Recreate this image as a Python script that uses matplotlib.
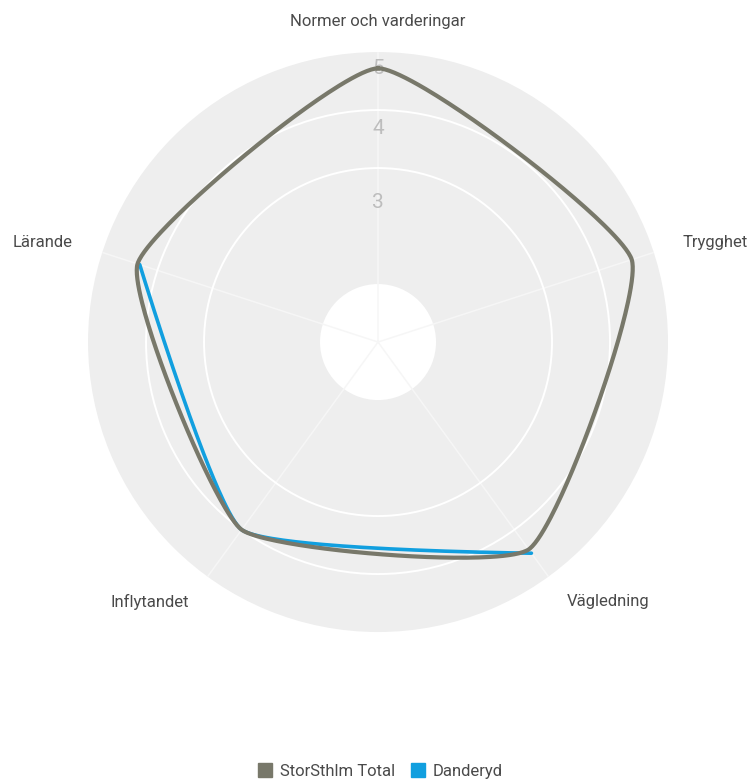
import numpy as np
import matplotlib
matplotlib.use("Agg")
import matplotlib.pyplot as plt
from matplotlib.lines import Line2D

plt.rcParams['font.family'] = ['Roboto', 'DejaVu Sans']

categories = ["Normer och varderingar", "Trygghet", "Vägledning", "Inflytandet", "Lärande"]
storsthlm = [4.72, 4.60, 4.42, 4.00, 4.36]
danderyd = [None, None, 4.50, 4.00, 4.32]
rticks = [3, 4, 5]

grey = '#78786a'
blue = '#119fdf'


def spline(xs, ys, closed, k=0.12):
    # rounded-corner spline, control points at k of the way to neighbours
    n = len(xs)
    lc, rc = [], []
    for i in range(n):
        if closed:
            px, py = xs[i - 1], ys[i - 1]
            nx, ny = xs[(i + 1) % n], ys[(i + 1) % n]
        elif 0 < i < n - 1:
            px, py = xs[i - 1], ys[i - 1]
            nx, ny = xs[i + 1], ys[i + 1]
        else:
            lc.append((xs[i], ys[i]))
            rc.append((xs[i], ys[i]))
            continue
        x, y = xs[i], ys[i]
        dl = k * np.hypot(px - x, py - y)
        dr = k * np.hypot(nx - x, ny - y)
        tx, ty = nx - px, ny - py
        tn = np.hypot(tx, ty)
        tx, ty = tx / tn, ty / tn
        lc.append((x - tx * dl, y - ty * dl))
        rc.append((x + tx * dr, y + ty * dr))
    segs = n if closed else n - 1
    t = np.linspace(0, 1, 80)[:, None]
    out = []
    for i in range(segs):
        j = (i + 1) % n
        p0 = np.array([xs[i], ys[i]])
        p1 = np.array(rc[i])
        p2 = np.array(lc[j])
        p3 = np.array([xs[j], ys[j]])
        b = (1 - t) ** 3 * p0 + 3 * (1 - t) ** 2 * t * p1 + 3 * (1 - t) * t ** 2 * p2 + t ** 3 * p3
        out.append(b)
    pts = np.vstack(out)
    return np.arctan2(pts[:, 0], pts[:, 1]), np.hypot(pts[:, 0], pts[:, 1])


def main():
    n = len(categories)
    angles = np.arange(n) * 2 * np.pi / n

    fig = plt.figure(figsize=(7.51, 7.83), dpi=100)
    ax = fig.add_axes([0.1172, 0.1928, 0.7723, 0.7407], projection='polar')
    ax.set_theta_offset(np.pi / 2)
    ax.set_theta_direction(-1)
    ax.set_ylim(0, 5)
    ax.set_facecolor('#eeeeee')
    ax.spines['polar'].set_visible(False)
    ax.set_axisbelow(True)

    # white hole in the middle
    ax.bar(0, 1, width=2 * np.pi, bottom=0, color='white', zorder=0.1, linewidth=0)

    ax.set_xticks(angles)
    ax.set_xticklabels([])
    ax.set_yticks([3, 4])
    ax.set_yticklabels([])
    ax.xaxis.grid(True, color='#f6f6f6', linewidth=1.1)
    ax.yaxis.grid(True, color='white', linewidth=1.4)
    ax.tick_params(length=0)

    # radial labels
    for v, rpos in zip(rticks, [2.41, 3.69, 4.72]):
        ax.text(0, rpos, str(v), ha='center', va='center', fontsize=15,
                color='#bdbdbd', zorder=1.5)

    # category labels
    aligns = ['center', 'left', 'left', 'right', 'right']
    for a, lab, ha in zip(angles, categories, aligns):
        ax.text(a, 5.53, lab, ha=ha, va='center', fontsize=12, color='#4a4a4a',
                clip_on=False)

    # Danderyd (only partial data)
    dv = [(a, v) for a, v in zip(angles, danderyd) if v is not None]
    da = np.array([p[0] for p in dv])
    dr = np.array([p[1] for p in dv])
    th, rr = spline(dr * np.sin(da), dr * np.cos(da), closed=False)
    ax.plot(th, rr, color=blue, lw=2.6, solid_capstyle='round', zorder=3)

    sv = np.array(storsthlm)
    th, rr = spline(sv * np.sin(angles), sv * np.cos(angles), closed=True)
    ax.plot(th, rr, color=grey, lw=3, solid_joinstyle='round', zorder=4)

    handles = [Line2D([], [], marker='s', markersize=10.5, linestyle='none', color=grey),
               Line2D([], [], marker='s', markersize=10.5, linestyle='none', color=blue)]
    fig.legend(handles, ["StorSthlm Total", "Danderyd"], loc='center',
               bbox_to_anchor=(0.5, 0.015), ncol=2, frameon=False, fontsize=12,
               handletextpad=-0.1, columnspacing=0.4, labelcolor='#4a4a4a')

    fig.savefig("out.png", dpi=100)


if __name__ == "__main__":
    main()
